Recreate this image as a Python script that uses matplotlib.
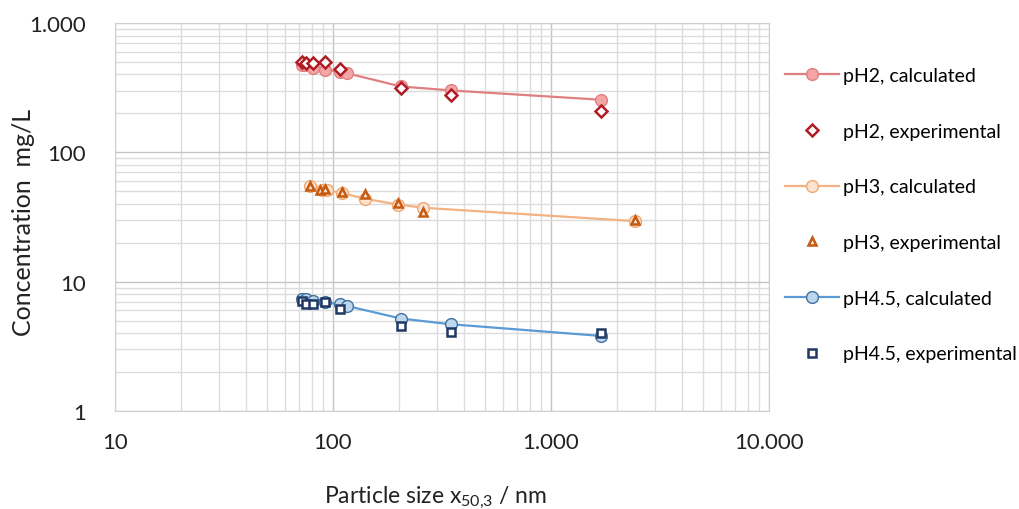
import matplotlib.pyplot as plt
from matplotlib.ticker import FixedLocator, FuncFormatter, NullFormatter

plt.rcParams['font.family'] = ['Lato', 'DejaVu Sans']

# particle size x50,3 / nm and concentration / mg/L
ph2_calc_x = [71.8, 74.5, 81.3, 91.9, 107.6, 115.6, 205, 347, 1694]
ph2_calc_y = [474, 470, 448, 435, 421, 409, 323, 301, 255]
ph2_exp_x = [71.8, 75.0, 81.3, 92.4, 107.6, 205, 347, 1694]
ph2_exp_y = [503, 489, 489, 498, 440, 314, 279, 207]

ph3_calc_x = [78.4, 88.7, 93.5, 109.6, 140.3, 199.5, 259, 2427]
ph3_calc_y = [54.7, 50.9, 50.9, 48.6, 43.7, 39.5, 37.3, 29.4]
ph3_exp_x = [78.4, 87.6, 92.4, 109.6, 140.3, 199.5, 259, 2427]
ph3_exp_y = [55.4, 51.5, 52.2, 49.5, 47.8, 40.7, 34.7, 29.9]

ph45_calc_x = [71.8, 75.6, 81.3, 91.9, 107.6, 115.6, 205, 347, 1694]
ph45_calc_y = [7.41, 7.31, 7.10, 6.97, 6.69, 6.50, 5.19, 4.69, 3.81]
ph45_exp_x = [72.2, 75.0, 81.3, 92.4, 107.6, 205, 347, 1694]
ph45_exp_y = [7.10, 6.69, 6.69, 6.97, 6.19, 4.51, 4.12, 4.00]

labels = ['pH2, calculated', 'pH2, experimental',
          'pH3, calculated', 'pH3, experimental',
          'pH4.5, calculated', 'pH4.5, experimental']

fig = plt.figure(figsize=(10.2, 5.1), dpi=100)
ax = fig.add_axes([0.1127, 0.192, 0.6412, 0.761])

styles = [
    dict(color='#e07f7f', marker='o', ms=8.5, mfc='#f4a6a6', mec='#e07f7f', lw=1.6),
    dict(color='none', marker='D', ms=6, mfc='white', mec='#b01c24', mew=1.8, lw=0),
    dict(color='#f4b183', marker='o', ms=8.5, mfc='#fbe3cf', mec='#f0a870', lw=1.6),
    dict(color='none', marker='^', ms=6, mfc='#fbe3cf', mec='#c55a11', mew=1.8, lw=0),
    dict(color='#5b9bd5', marker='o', ms=8.5, mfc='#bdd7ee', mec='#41719c', lw=1.6),
    dict(color='none', marker='s', ms=5.5, mfc='white', mec='#1f3864', mew=1.8, lw=0),
]
series = [(ph2_calc_x, ph2_calc_y), (ph2_exp_x, ph2_exp_y),
          (ph3_calc_x, ph3_calc_y), (ph3_exp_x, ph3_exp_y),
          (ph45_calc_x, ph45_calc_y), (ph45_exp_x, ph45_exp_y)]

handles = []
for (xs, ys), st, lab in zip(series, styles, labels):
    h, = ax.plot(xs, ys, label=lab, zorder=3, **st)
    handles.append(h)

ax.set_xscale('log')
ax.set_yscale('log')
ax.set_xlim(10, 10000)
ax.set_ylim(1, 1000)

thousands = FuncFormatter(lambda v, p: f'{int(round(v)):,}'.replace(',', '.'))
ax.xaxis.set_major_locator(FixedLocator([10, 100, 1000, 10000]))
ax.yaxis.set_major_locator(FixedLocator([1, 10, 100, 1000]))
ax.xaxis.set_major_formatter(thousands)
ax.yaxis.set_major_formatter(thousands)
minor = [m * 10 ** e for e in range(0, 4) for m in range(2, 10)]
ax.xaxis.set_minor_locator(FixedLocator(minor))
ax.yaxis.set_minor_locator(FixedLocator(minor))
ax.xaxis.set_minor_formatter(NullFormatter())
ax.yaxis.set_minor_formatter(NullFormatter())

ax.grid(which='major', color='#c4c4c4', lw=1.0)
ax.grid(which='minor', color='#dcdcdc', lw=1.0)
ax.set_axisbelow(True)
for s in ax.spines.values():
    s.set_color('#d0d0d0')
ax.tick_params(which='both', length=0, labelsize=16, colors='#222222')
ax.tick_params(axis='y', pad=21)
ax.tick_params(axis='x', pad=15)

ax.set_xlabel(r'Particle size x$_{\mathregular{50{,}3}}$ / nm', fontsize=16.5, color='#222222')
ax.xaxis.set_label_coords(0.49, -0.2345)
ax.xaxis.label.set_va('baseline')
ax.set_ylabel('Concentration  mg/L', fontsize=18, color='#222222')
ax.yaxis.set_label_coords(-0.1223, 0.488)

fig.legend(handles=handles, loc='upper left', bbox_to_anchor=(0.762, 0.882),
           frameon=False, fontsize=14, labelspacing=1.99, handlelength=2.8,
           handletextpad=0.2, borderaxespad=0)

fig.savefig('out.png', dpi=100)
